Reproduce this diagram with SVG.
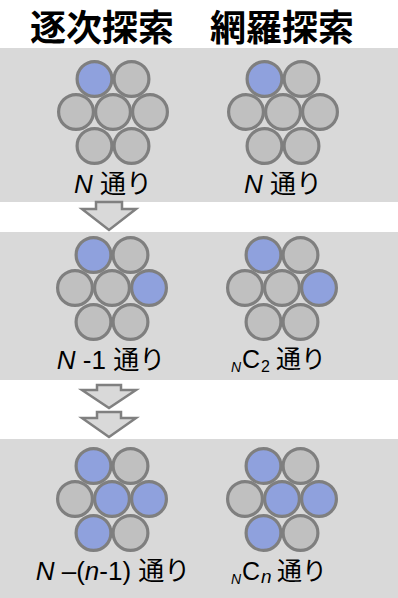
<svg xmlns="http://www.w3.org/2000/svg" width="398" height="598" viewBox="0 0 398 598">
<defs>
<style>
.panel{fill:#d9d9d9}
.c{fill:#c0c0c0;stroke:#7f7f7f;stroke-width:3.2}
.b{fill:#8fa1dd;stroke:#7f7f7f;stroke-width:3.2}
.t{font-family:"Liberation Sans","Noto Sans CJK JP",sans-serif;font-size:25px;fill:#000}
.l{font-size:26px}
.i{font-style:italic}
.h{font-family:"Noto Sans CJK JP",sans-serif;font-size:36px;font-weight:bold;fill:#000;text-anchor:middle}
.arr{fill:#d9d9d9;stroke:#808080;stroke-width:2.5;stroke-linejoin:miter}
</style>
</defs>
<rect width="398" height="598" fill="#fff"/>
<g id="titles">
<text class="h" x="102" y="41">逐次探索</text>
<text class="h" x="282" y="41">網羅探索</text>
</g>
<rect class="panel" x="0" y="48" width="398" height="154"/>
<rect class="panel" x="0" y="232" width="398" height="148"/>
<rect class="panel" x="0" y="439" width="398" height="159"/>

<g id="connectors">
<path class="arr" d="M96,202 H122 V209 H136 L109,230 L82,209 H96 Z"/>
<path class="arr" d="M97,385 H121 V390 H136 L109,408 L82,390 H97 Z"/>
<path class="arr" d="M97,412 H121 V418 H136 L109,437 L82,418 H97 Z"/>
</g>

<g id="seq1">
<g class="c" transform="translate(113,112)">
<circle cx="-18.5" cy="-33" r="17.4" class="b"/>
<circle cx="18.5" cy="-33" r="17.4"/>
<circle cx="-37" cy="0" r="17.4"/>
<circle cx="0" cy="0" r="17.4"/>
<circle cx="37" cy="0" r="17.4"/>
<circle cx="-18.5" cy="34" r="17.4"/>
<circle cx="18.5" cy="34" r="17.4"/>
</g>
<text class="t l" x="113" y="193" text-anchor="middle"><tspan class="i">N</tspan> 通り</text>
</g>
<g id="exh1">
<g class="c" transform="translate(283,112)">
<circle cx="-18.5" cy="-33" r="17.4" class="b"/>
<circle cx="18.5" cy="-33" r="17.4"/>
<circle cx="-37" cy="0" r="17.4"/>
<circle cx="0" cy="0" r="17.4"/>
<circle cx="37" cy="0" r="17.4"/>
<circle cx="-18.5" cy="34" r="17.4"/>
<circle cx="18.5" cy="34" r="17.4"/>
</g>
<text class="t l" x="283" y="193" text-anchor="middle"><tspan class="i">N</tspan> 通り</text>
</g>

<g id="seq2">
<g class="c" transform="translate(112,288)">
<circle cx="-18.5" cy="-33" r="17.4" class="b"/>
<circle cx="18.5" cy="-33" r="17.4"/>
<circle cx="-37" cy="0" r="17.4"/>
<circle cx="0" cy="0" r="17.4"/>
<circle cx="37" cy="0" r="17.4" class="b"/>
<circle cx="-18.5" cy="34" r="17.4"/>
<circle cx="18.5" cy="34" r="17.4"/>
</g>
<text class="t l" x="111" y="369" text-anchor="middle"><tspan class="i">N</tspan> -1 通り</text>
</g>
<g id="exh2">
<g class="c" transform="translate(282,288)">
<circle cx="-18.5" cy="-33" r="17.4" class="b"/>
<circle cx="18.5" cy="-33" r="17.4"/>
<circle cx="-37" cy="0" r="17.4"/>
<circle cx="0" cy="0" r="17.4"/>
<circle cx="37" cy="0" r="17.4" class="b"/>
<circle cx="-18.5" cy="34" r="17.4"/>
<circle cx="18.5" cy="34" r="17.4"/>
</g>
<text class="t"><tspan class="i" x="231" y="372" font-size="14">N</tspan><tspan x="242" y="368">C</tspan><tspan x="261" y="372" font-size="16">2</tspan><tspan x="276" y="368">通り</tspan></text>
</g>

<g id="seq3">
<g class="c" transform="translate(112,499)">
<circle cx="-18.5" cy="-33" r="17.4" class="b"/>
<circle cx="18.5" cy="-33" r="17.4"/>
<circle cx="-37" cy="0" r="17.4"/>
<circle cx="0" cy="0" r="17.4" class="b"/>
<circle cx="37" cy="0" r="17.4" class="b"/>
<circle cx="-18.5" cy="34" r="17.4" class="b"/>
<circle cx="18.5" cy="34" r="17.4"/>
</g>
<text class="t l" x="113" y="580" text-anchor="middle"><tspan class="i">N</tspan> –(<tspan class="i">n</tspan>-1) 通り</text>
</g>
<g id="exh3">
<g class="c" transform="translate(282,499)">
<circle cx="-18.5" cy="-33" r="17.4" class="b"/>
<circle cx="18.5" cy="-33" r="17.4"/>
<circle cx="-37" cy="0" r="17.4"/>
<circle cx="0" cy="0" r="17.4" class="b"/>
<circle cx="37" cy="0" r="17.4" class="b"/>
<circle cx="-18.5" cy="34" r="17.4" class="b"/>
<circle cx="18.5" cy="34" r="17.4"/>
</g>
<text class="t"><tspan class="i" x="231" y="584" font-size="14">N</tspan><tspan x="242" y="580">C</tspan><tspan class="i" x="261" y="583" font-size="19">n</tspan><tspan x="277" y="580">通り</tspan></text>
</g>
</svg>
